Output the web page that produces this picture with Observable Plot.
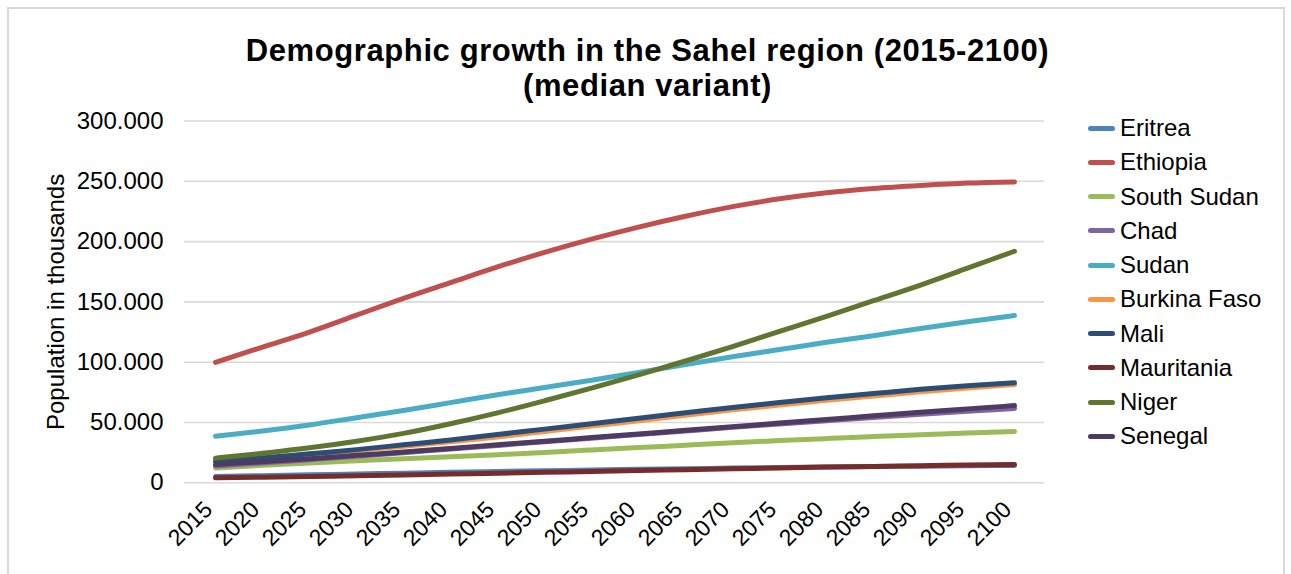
<!DOCTYPE html>
<html>
<head>
<meta charset="utf-8">
<script src="https://cdn.jsdelivr.net/npm/d3@7"></script>
<script src="https://cdn.jsdelivr.net/npm/@observablehq/plot@0.6"></script>
<style>
  html, body { margin: 0; padding: 0; background: #fff; }
  #wrap { position: relative; width: 1291px; height: 574px; overflow: hidden; font-family: Arial, "Liberation Sans", sans-serif; color: #000; }
  #frame { position: absolute; left: 7px; top: 7px; width: 1278px; height: 620px; border: 2px solid #d9d9d9; box-sizing: border-box; }
  #chart { position: absolute; left: 0; top: 0; }
  #title { position: absolute; left: 8px; width: 1279px; top: 33px; text-align: center; font-weight: bold; font-size: 31px; line-height: 35px; letter-spacing: 0.6px; }
  #legend { position: absolute; left: 1088px; top: 111px; }
  .row { display: flex; align-items: center; height: 34.26px; font-size: 24px; white-space: nowrap; }
  .sw { width: 27px; height: 5px; border-radius: 3px; margin-right: 5px; flex: none; }
</style>
</head>
<body>
<div id="wrap">
  <div id="frame"></div>
  <div id="chart"></div>
  <div id="title">Demographic growth in the Sahel region (2015-2100)<br>(median variant)</div>
  <div id="legend"></div>
</div>
<script>
const years = [2015,2020,2025,2030,2035,2040,2045,2050,2055,2060,2065,2070,2075,2080,2085,2090,2095,2100];
const countries = ["Eritrea","Ethiopia","South Sudan","Chad","Sudan","Burkina Faso","Mali","Mauritania","Niger","Senegal"];
const colors = ["#4F81BD","#C0504D","#9BBB59","#8064A2","#4BACC6","#F79646","#2C4D75","#772C2A","#5F7530","#4D3B62"];
const yTicks = [0,50000,100000,150000,200000,250000,300000];

// population in thousands
const eritrea    = [5200,5900,6600,7300,8000,8700,9400,10000,10600,11200,11700,12200,12700,13100,13500,13800,14100,14400];
const ethiopia   = [99900,112500,125000,139000,153000,166000,179000,191000,202000,212000,221000,229000,235500,240500,244000,246500,248500,249500];
const southSudan = [12300,14500,16500,18300,19900,21500,23300,25200,27200,29200,31200,33200,35000,36700,38300,39800,41200,42600];
const chad       = [14000,16500,19200,22000,25000,28000,31000,34000,37000,40000,43000,46000,48800,51500,54200,56800,59300,61700];
const sudan      = [38600,43000,48000,54000,60000,66500,73000,79000,85000,91500,98000,104500,110500,116500,122000,128000,133500,138700];
const burkina    = [18100,20700,23600,26800,30300,34000,38000,42500,47000,51500,56000,60500,64500,68500,72000,75500,78700,81500];
const mali       = [17600,20500,24000,27500,31500,35500,40000,44500,49000,53500,58000,62500,66500,70500,74000,77500,80500,83000];
const mauritania = [4100,4600,5200,5800,6500,7200,7900,8700,9400,10200,10900,11600,12300,13000,13600,14200,14700,15200];
const niger      = [20400,24500,29000,34500,41000,49000,58000,68000,78500,89500,101000,113000,125500,138000,151000,164000,178000,192000];
const senegal    = [15100,17500,20000,22800,25500,28500,31500,34500,37500,40500,43500,46500,49500,52500,55500,58500,61300,64000];

const series = [eritrea, ethiopia, southSudan, chad, sudan, burkina, mali, mauritania, niger, senegal];
const rows = [];
series.forEach((vals, i) => vals.forEach((v, j) => rows.push({country: countries[i], year: years[j], value: v})));

const loc = d3.formatLocale({decimal: ",", thousands: ".", grouping: [3], currency: ["", ""]});
const fmt = loc.format(",");

const chart = Plot.plot({
  width: 1291,
  height: 574,
  marginLeft: 184,
  marginRight: 247,
  marginTop: 120.5,
  marginBottom: 91.7,
  style: {fontFamily: "Arial, 'Liberation Sans', sans-serif", color: "#000", background: "transparent", overflow: "visible"},
  x: {type: "point", domain: years, padding: 0.5},
  y: {domain: [0, 300000]},
  color: {domain: countries, range: colors},
  marks: [
    Plot.gridY(yTicks, {stroke: "#d9d9d9", strokeOpacity: 1, strokeWidth: 1.6}),
    Plot.axisY(yTicks, {tickSize: 0, tickPadding: 21, tickFormat: fmt, fontSize: 24, label: null}),
    Plot.axisX(years, {tickRotate: -45, tickSize: 0, tickPadding: 10, dx: -7, dy: 13, tickFormat: d => String(d), fontSize: 23, label: null}),
    Plot.line(rows, {x: "year", y: "value", z: "country", stroke: "country", strokeWidth: 5,
      curve: "monotone-x", strokeLinecap: "round", strokeLinejoin: "round"}),
    Plot.text(["Population in thousands"], {frameAnchor: "left", textAnchor: "middle", lineAnchor: "middle", rotate: -90, dx: -128, fontSize: 24, fill: "#000"})
  ]
});
document.getElementById("chart").appendChild(chart);

const legend = document.getElementById("legend");
countries.forEach((c, i) => {
  const row = document.createElement("div");
  row.className = "row";
  const sw = document.createElement("span");
  sw.className = "sw";
  sw.style.background = colors[i];
  const t = document.createElement("span");
  t.textContent = c;
  row.appendChild(sw);
  row.appendChild(t);
  legend.appendChild(row);
});
</script>
</body>
</html>
